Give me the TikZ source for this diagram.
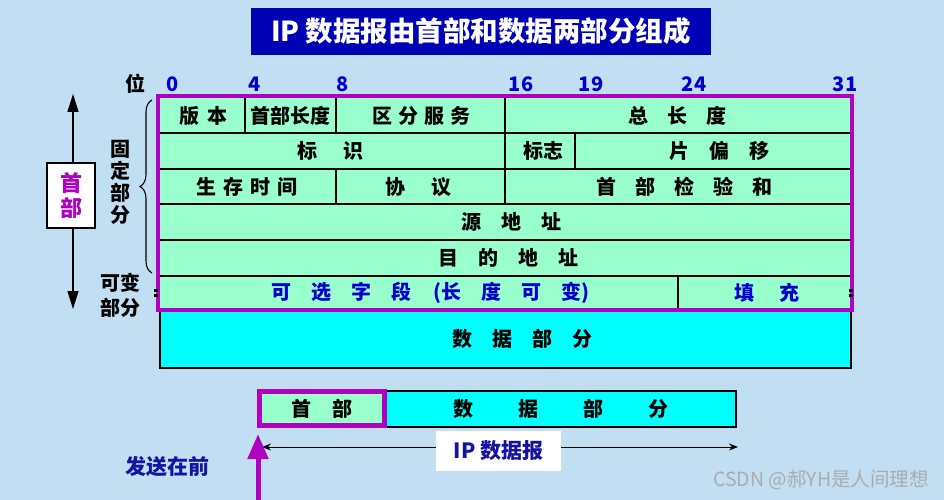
\documentclass[tikz,border=0pt]{standalone}
\usepackage{fontspec}
\setmainfont{Noto Sans CJK SC}
\usepackage{tikz}
\usetikzlibrary{arrows.meta,decorations.pathreplacing}

\definecolor{bgblue}{RGB}{194,222,242}
\definecolor{mint}{RGB}{153,255,204}
\definecolor{aqua}{RGB}{0,255,255}
\definecolor{hdrmag}{RGB}{176,0,192}
\definecolor{titleblue}{RGB}{0,0,180}
\definecolor{numblue}{RGB}{0,0,204}
\definecolor{navyblue}{RGB}{20,20,160}
\newcommand{\gp}[1]{\hspace{#1pt}}

\begin{document}
\begin{tikzpicture}[x=1pt,y=-1pt,
    fld/.style={font=\fontsize{20}{22}\selectfont\bfseries, inner sep=0pt},
    optfld/.style={fld, text=numblue},
    bitno/.style={fld, text=numblue},
    rowline/.style={line width=1.4pt}]
                \fill[bgblue] (0,0) rectangle (944,500);
                \useasboundingbox (0,0) rectangle (944,500);

                \node[fill=titleblue, text=white, minimum width=460pt, minimum height=47pt,
                      font=\fontsize{27.5}{27.5}\selectfont\bfseries] (title) at (481,31.5)
                      {IP 数据报由首部和数据两部分组成};

                \node[fld] (bitword) at (135,84) {位};
                \foreach \bx/\bn in {173/0, 255/4, 343/8, 521/16, 591/19, 694/24, 845/31}
                    \node[bitno] (bit\bn) at (\bx,84) {\bn};

                \fill[mint] (160,98) rectangle (851,309);
                \foreach \ry in {133,169,204,240,276}
                    \draw[rowline] (160,\ry) -- (851,\ry);
                \foreach \cx in {245,336,505}
                    \draw[rowline] (\cx,98) -- (\cx,133);
                \foreach \cx in {505,575}
                    \draw[rowline] (\cx,133) -- (\cx,169);
                \foreach \cx in {336,505}
                    \draw[rowline] (\cx,169) -- (\cx,204);
                \draw[rowline] (678,276) -- (678,309);

                \draw[fill=aqua, line width=2.5pt] (160,309) rectangle (851,368);
                \draw[hdrmag, line width=4.5pt] (158,96) rectangle (852,310);

                \node[fld] (ver) at (203,116) {版\gp{8}本};
                \node[fld] (ihl) at (290,116) {首部长度};
                \node[fld] (dsf) at (421,116) {区\gp{6}分\gp{6}服\gp{6}务};
                \node[fld] (totlen) at (677,116) {总\gp{19}长\gp{19}度};
                \node[fld] (ident) at (330,151) {标\gp{26}识};
                \node[fld] (flags) at (543,151) {标志};
                \node[fld] (fragoff) at (719,151) {片\gp{20}偏\gp{20}移};
                \node[fld] (ttl) at (247,187) {生\gp{7}存\gp{7}时\gp{7}间};
                \node[fld] (proto) at (418,187) {协\gp{26}议};
                \node[fld] (chksum) at (684,187) {首\gp{19}部\gp{19}检\gp{19}验\gp{19}和};
                \node[fld] (srcaddr) at (511,222) {源\gp{20}地\gp{20}址};
                \node[fld] (dstaddr) at (508,258) {目\gp{20}的\gp{20}地\gp{20}址};
                \node[optfld] (options) at (430,293)
                      {可\gp{20}选\gp{20}字\gp{20}段\gp{22}(长\gp{20}度\gp{20}可\gp{20}变)};
                \node[optfld] (padding) at (767,293) {填\gp{25}充};
                \node[fld] (payload) at (522,339) {数\gp{20}据\gp{20}部\gp{20}分};

                \fill[black] (154,289) rectangle (158,292);
                \fill[black] (154,294) rectangle (158,297);
                \fill[black] (849,289) rectangle (853,292);
                \fill[black] (849,294) rectangle (853,297);

                \coordinate (hdtop) at (73,94);
                \coordinate (hdbot) at (73,309);
                \draw[line width=1.5pt, {Triangle[width=11pt,length=18pt]}-{Triangle[width=11pt,length=18pt]}]
                      (hdtop) -- (hdbot);
                \node[draw, fill=white, line width=1.2pt, minimum width=48pt, minimum height=65pt,
                      text=hdrmag, align=center, font=\fontsize{22}{25}\selectfont\bfseries]
                      (hdlabel) at (71,195.5) {首\\部};

                \draw[decorate, decoration={brace, amplitude=12pt}, line width=1.1pt] (152,273) -- (152,100);
                \node[fld, align=center] (fixedpart) at (120,182) {固\\定\\部\\分};
                \node[fld, align=center, font=\fontsize{20}{25}\selectfont\bfseries] (varpart) at (120,295.5) {可变\\部分};

                \node[fld, draw=black, fill=aqua, line width=2pt, minimum width=350pt, minimum height=36pt]
                      (dgdata) at (561,409) {数\gp{45}据\gp{45}部\gp{45}分};
                \node[fld, draw=hdrmag, fill=mint, line width=4.5pt, minimum width=125pt, minimum height=34pt]
                      (dghead) at (322,408.5) {首\gp{21}部};

                \coordinate (dgl) at (262,447);
                \coordinate (dgr) at (738,447);
                \draw[line width=1pt, {Stealth[length=9pt,width=7pt]}-{Stealth[length=9pt,width=7pt]}] (dgl) -- (dgr);
                \node[fill=white, minimum width=125pt, minimum height=40pt, text=navyblue,
                      font=\fontsize{21}{21}\selectfont\bfseries] (dglabel) at (498.5,451) {IP 数据报};

                \coordinate (sendfoot) at (258,500);
                \coordinate (sendtip) at (258,434);
                \draw[hdrmag, line width=5pt, -{Triangle[width=20pt,length=25pt]}] (sendfoot) -- (sendtip);
                \node[fld, text=navyblue, font=\fontsize{21}{21}\selectfont\bfseries] (sendfirst) at (167,467) {发送在前};

                \node[text=gray!65, font=\fontsize{19.5}{19.5}\selectfont] (wmark) at (821,480) {CSDN @郝YH是人间理想};
            \end{tikzpicture}
\end{document}
